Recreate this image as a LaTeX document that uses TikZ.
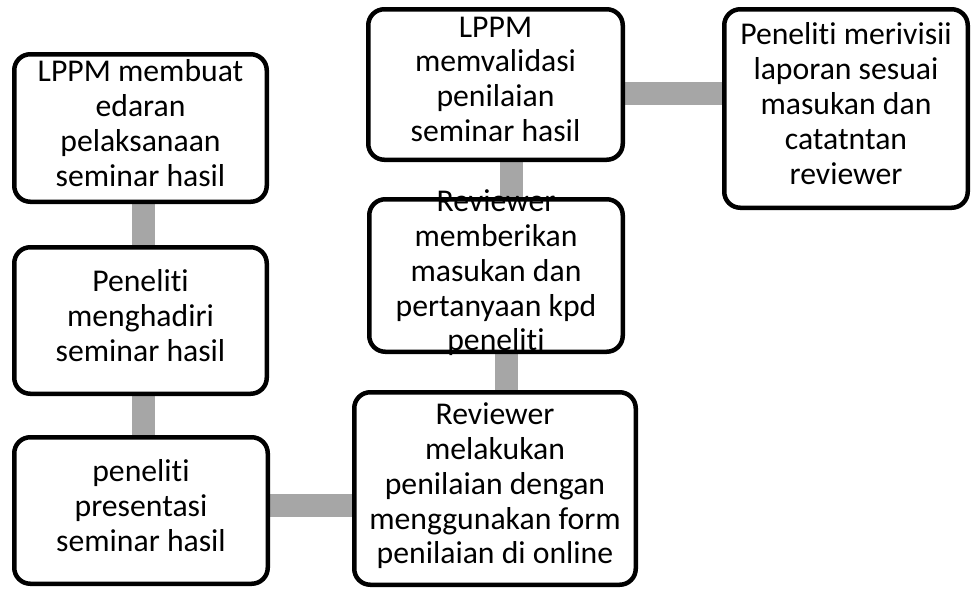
\documentclass[tikz,border=0pt]{standalone}
\usepackage{fontspec}
\setmainfont{Carlito}[UprightFont=* Regular, Ligatures={NoCommon}]
\usetikzlibrary{backgrounds}
\definecolor{conngray}{HTML}{A6A6A6}
\tikzset{
  box/.style={draw=black, line width=4.5pt, rounded corners=16pt, fill=white, inner sep=0pt},
  txt/.style={align=center, inner sep=0pt, font=\fontsize{31.7}{34.9}\selectfont,
    execute at begin node=\strut, execute at end node=\strut},
  conn/.style={draw=conngray, line width=23pt}
}
\begin{document}
\begin{tikzpicture}[x=1pt,y=-1pt]
\useasboundingbox (0,0) rectangle (972,589);
% boxes
\node[box, minimum width=252.5pt, minimum height=147.5pt] (b1) at (140.5,128) {};
\node[box, minimum width=252.5pt, minimum height=146.5pt] (b2) at (140.5,320.5) {};
\node[box, minimum width=253.5pt, minimum height=146.5pt] (b3) at (141,510.5) {};
\node[box, minimum width=281.5pt, minimum height=192.5pt] (b4) at (495,488.5) {};
\node[box, minimum width=253.5pt, minimum height=152.5pt] (b5) at (496,275.5) {};
\node[box, minimum width=254.5pt, minimum height=150.5pt] (b6) at (495.5,84.5) {};
\node[box, minimum width=243.5pt, minimum height=198.5pt] (b7) at (846,108.5) {};
% texts
\node[txt] (t1) at (b1) {LPPM membuat\\edaran\\pelaksanaan\\seminar hasil};
\node[txt] (t2) at (b2) {Peneliti\\menghadiri\\seminar hasil};
\node[txt] (t3) at (b3) {peneliti\\presentasi\\seminar hasil};
\node[txt] (t4) at (b4) {Reviewer\\melakukan\\penilaian dengan\\menggunakan form\\penilaian di online};
\node[txt] (t5) at (b5) {Reviewer\\memberikan\\masukan dan\\pertanyaan kpd\\peneliti};
\node[txt] (t6) at (b6) {LPPM\\memvalidasi\\penilaian\\seminar hasil};
\node[txt] (t7) at (b7) {Peneliti merivisii\\laporan sesuai\\masukan dan\\catatntan\\reviewer};
% connectors
\begin{scope}[on background layer]
\draw[conn] ([xshift=3pt]b1.south) -- ([xshift=3pt]b1.south |- b2.north);
\draw[conn] ([xshift=3pt]b2.south) -- ([xshift=3pt]b2.south |- b3.north);
\draw[conn] ([yshift=5pt]b3.east) -- ([yshift=5pt]b3.east -| b4.west);
\draw[conn] ([xshift=11pt]b4.north) -- ([xshift=11pt]b4.north |- b5.south);
\draw[conn] ([xshift=15.5pt]b5.north) -- ([xshift=15.5pt]b5.north |- b6.south);
\draw[conn] ([yshift=-9pt]b6.east) -- ([yshift=-9pt]b6.east -| b7.west);
\end{scope}
\end{tikzpicture}
\end{document}
